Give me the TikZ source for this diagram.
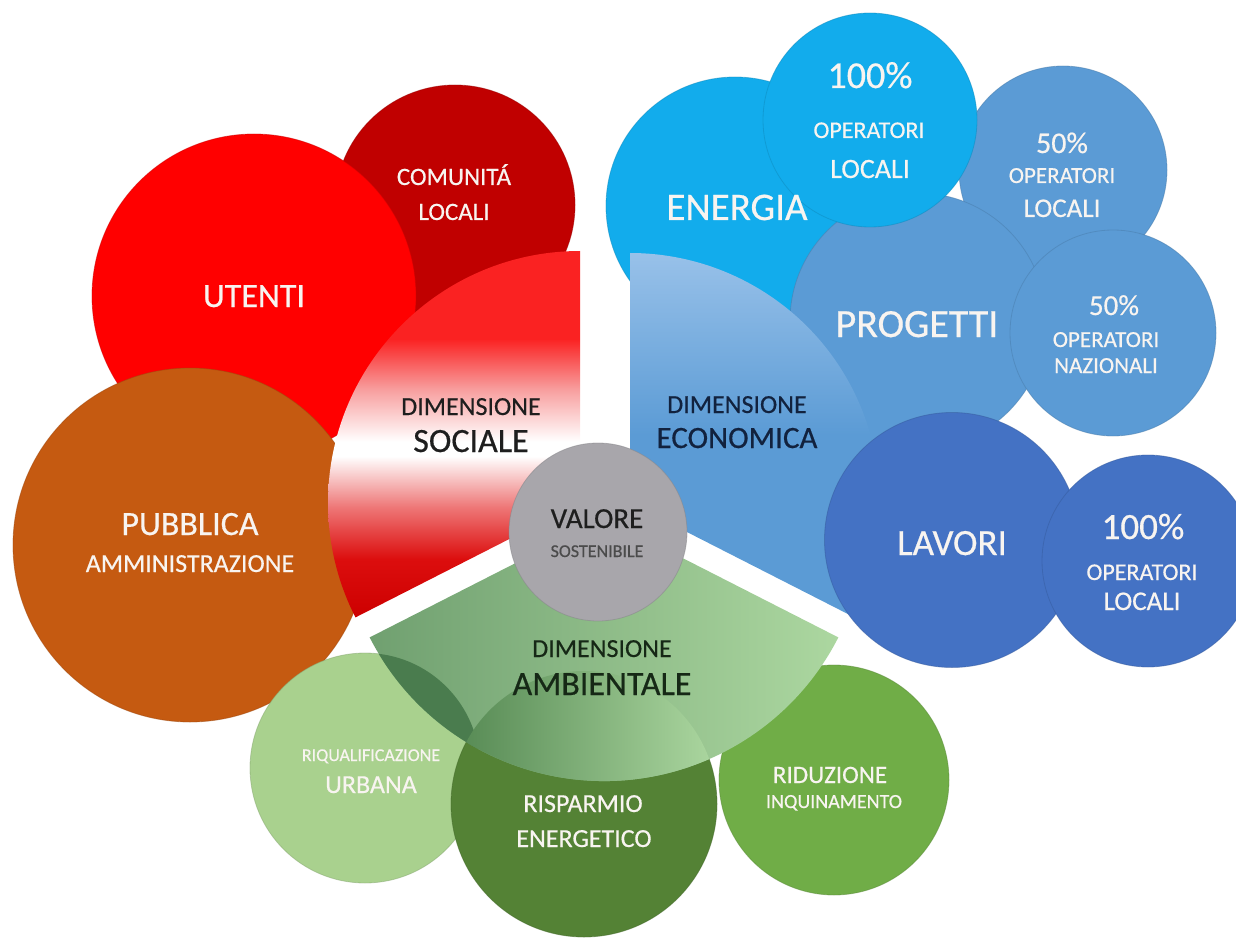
\documentclass[tikz,border=0pt]{standalone}
\usepackage{fontspec}
\setmainfont{Carlito}[FakeBold=0.5]
\definecolor{utred}{RGB}{255,0,0}
\definecolor{comred}{RGB}{192,0,0}
\definecolor{paorange}{RGB}{197,90,17}
\definecolor{encyan}{RGB}{18,172,236}
\definecolor{midblue}{RGB}{91,155,213}
\definecolor{lavblue}{RGB}{68,114,196}
\definecolor{riqgreen}{RGB}{169,209,142}
\definecolor{rispgreen}{RGB}{84,130,53}
\definecolor{ridgreen}{RGB}{112,173,71}
\definecolor{valgray}{RGB}{168,166,171}
\definecolor{soctop}{RGB}{250,34,34}
\definecolor{socpink}{RGB}{248,160,160}
\definecolor{socrose}{RGB}{238,118,118}
\definecolor{socred}{RGB}{220,14,14}
\definecolor{socdark}{RGB}{205,0,0}
\definecolor{ecotop}{RGB}{152,193,233}
\definecolor{ambleft}{RGB}{112,160,112}
\definecolor{ambright}{RGB}{172,215,160}
\definecolor{lensdark}{RGB}{74,124,78}
\definecolor{lensleft}{RGB}{84,136,82}
\definecolor{txtdark}{RGB}{30,30,30}
\definecolor{txtnavy}{RGB}{18,34,62}
\definecolor{txtgreen}{RGB}{22,40,22}
\definecolor{txtwhite}{RGB}{248,244,240}
\pgfdeclareverticalshading{socshade}{100bp}{color(0bp)=(socdark); color(25bp)=(socdark);
  color(33bp)=(socred); color(40bp)=(socrose); color(47bp)=(white); color(49bp)=(white);
  color(56bp)=(socpink); color(63bp)=(soctop); color(100bp)=(soctop)}
\tikzset{
  bubble/.style 2 args={circle, inner sep=0pt, outer sep=0pt, minimum size=#1pt,
    fill=#2, draw=#2!80!black, draw opacity=0.5, line width=0.8pt},
  wtxt/.style={anchor=base, inner sep=0pt, text=txtwhite, font=\fontsize{#1}{#1}\selectfont},
  dtxt/.style={anchor=base, inner sep=0pt, text=txtdark, font=\fontsize{#1}{#1}\selectfont},
}
\begin{document}
\begin{tikzpicture}[x=1pt, y=1pt]
\useasboundingbox (0,0) rectangle (1236,-941);
\clip (0,-12) rectangle (1236,-941);
% dimensione sociale
\node[bubble={240}{comred}] (comunita) at (455,-205) {};
\node[bubble={324}{utred}] (utenti) at (254,-296) {};
\node[bubble={354}{paorange}] (pubblica) at (190,-545) {};
\shade[shading=socshade]
  (580,-503) -- ++(90:252) arc[start angle=90, end angle=207, radius=252] -- cycle;
% dimensione economica
\node[bubble={258}{encyan}] (energia) at (735,-206) {};
\node[bubble={208}{midblue}] (locali50) at (1063,-170) {};
\node[bubble={256}{midblue}] (progetti) at (918,-321) {};
\node[bubble={206}{midblue}] (nazionali) at (1113,-333) {};
\node[bubble={214}{encyan}] (locali100) at (870,-120) {};
\path[top color=ecotop, bottom color=midblue, middle color=midblue]
  (630,-503) -- ++(-27:250) arc[start angle=-27, end angle=90, radius=250] -- cycle;
\node[bubble={255}{lavblue}] (lavori) at (952,-540) {};
\node[bubble={212}{lavblue}] (lavori100) at (1148,-561) {};
% dimensione ambientale
\node[bubble={230}{riqgreen}] (riqual) at (365,-768) {};
\node[bubble={266}{rispgreen}] (risparmio) at (584,-804) {};
\node[bubble={230}{ridgreen}] (riduzione) at (834,-780) {};
\path[left color=ambleft, right color=ambright]
  (604,-518) -- ++(207:263) arc[start angle=207, end angle=333, radius=263] -- cycle;
\begin{scope}
  \clip (604,-518) -- ++(207:263) arc[start angle=207, end angle=333, radius=263] -- cycle;
  \fill[lensdark] (riqual.center) circle[radius=115];
  \path[left color=lensleft, right color=ambright] (risparmio.center) circle[radius=133];
\end{scope}
\node[bubble={178}{valgray}] (valore) at (598,-532) {};
% testi
\node[wtxt=25] (comT) at (454,-185) {COMUNITÁ};
\node[wtxt=25] (comT2) at (454,-220) {LOCALI};
\node[wtxt=34] (utentiT) at (254,-307) {UTENTI};
\node[wtxt=34] (pubT) at (190,-535) {PUBBLICA};
\node[wtxt=26] (pubT2) at (190,-572) {AMMINISTRAZIONE};
\node[dtxt=26] (socT) at (471,-415) {DIMENSIONE};
\node[dtxt=34] (socT2) at (471,-452) {SOCIALE};
\node[dtxt=26, text=txtnavy] (ecoT) at (737,-413) {DIMENSIONE};
\node[dtxt=31, text=txtnavy] (ecoT2) at (737,-448) {ECONOMICA};
\node[wtxt=39] (enT) at (737,-220) {ENERGIA};
\node[wtxt=38] (l100T) at (870,-88) {100\%};
\node[wtxt=24] (l100T2) at (869,-138) {OPERATORI};
\node[wtxt=28] (l100T3) at (870,-178) {LOCALI};
\node[wtxt=30] (l50T) at (1062,-153) {50\%};
\node[wtxt=23] (l50T2) at (1062,-183) {OPERATORI};
\node[wtxt=27] (l50T3) at (1062,-217) {LOCALI};
\node[wtxt=40] (progT) at (917,-337) {PROGETTI};
\node[wtxt=29] (nazT) at (1114,-315) {50\%};
\node[wtxt=23] (nazT2) at (1106,-347) {OPERATORI};
\node[wtxt=23] (nazT3) at (1106,-373) {NAZIONALI};
\node[wtxt=37] (lavT) at (952,-555) {LAVORI};
\node[wtxt=37] (l100bT) at (1143,-539) {100\%};
\node[wtxt=24] (l100bT2) at (1142,-580) {OPERATORI};
\node[wtxt=27] (l100bT3) at (1142,-610) {LOCALI};
\node[dtxt=29] (valT) at (597,-528) {VALORE};
\node[dtxt=18, text=txtdark!80] (valT2) at (597,-557) {SOSTENIBILE};
\node[dtxt=26, text=txtgreen] (ambT) at (602,-657) {DIMENSIONE};
\node[dtxt=34, text=txtgreen] (ambT2) at (602,-695) {AMBIENTALE};
\node[wtxt=18] (riqT) at (371,-761) {RIQUALIFICAZIONE};
\node[wtxt=26] (riqT2) at (371,-793) {URBANA};
\node[wtxt=26] (rispT) at (583,-812) {RISPARMIO};
\node[wtxt=26] (rispT2) at (584,-847) {ENERGETICO};
\node[wtxt=25] (ridT) at (830,-783) {RIDUZIONE};
\node[wtxt=20] (ridT2) at (834,-808) {INQUINAMENTO};
\end{tikzpicture}
\end{document}
